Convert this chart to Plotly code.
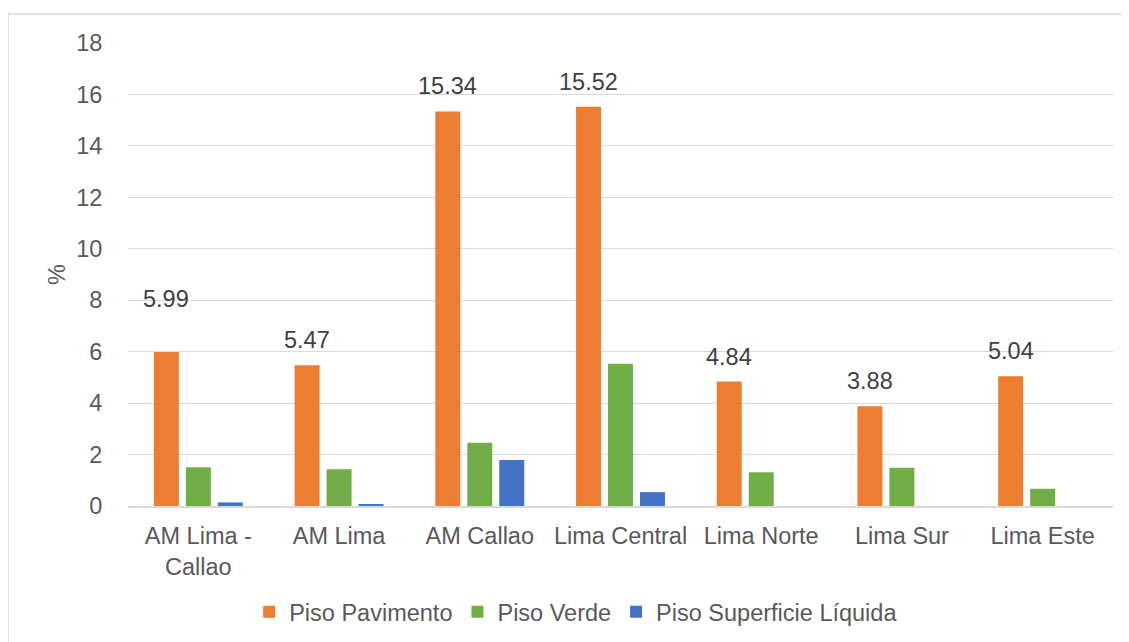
import plotly.graph_objects as go

categories = ["AM Lima -<br>Callao", "AM Lima", "AM Callao", "Lima Central", "Lima Norte", "Lima Sur", "Lima Este"]
piso_pavimento = [5.99, 5.47, 15.34, 15.52, 4.84, 3.88, 5.04]
piso_verde = [1.51, 1.43, 2.46, 5.53, 1.31, 1.49, 0.67]
piso_liquida = [0.14, 0.06, 1.79, 0.54, 0, 0, 0]
pavimento_labels = ["5.99", "5.47", "15.34", "15.52", "4.84", "3.88", "5.04"]
y_ticks = [0, 2, 4, 6, 8, 10, 12, 14, 16, 18]

# extra vertical offset (px) of each data label, as placed in the original
label_yshift = [38, 10, 10, 10, 10, 10, 10]

FONT = "Arial, 'Liberation Sans', sans-serif"
TXT = "#595959"
FS = 23.5

fig = go.Figure()
fig.add_trace(go.Bar(name="Piso Pavimento", x=categories, y=piso_pavimento,
                     marker=dict(color="#ED7D31", line=dict(width=0)),
                     offsetgroup="a"))
fig.add_trace(go.Bar(name="Piso Verde", x=categories, y=piso_verde,
                     marker=dict(color="#70AD47", line=dict(width=0)),
                     offsetgroup="b"))
fig.add_trace(go.Bar(name="Piso Superficie Líquida", x=categories, y=piso_liquida,
                     marker=dict(color="#4472C4", line=dict(width=0)),
                     offsetgroup="c"))

annotations = []
for cat, val, lab, ys in zip(categories, piso_pavimento, pavimento_labels, label_yshift):
    annotations.append(dict(x=cat, y=val, text=lab, xref="x", yref="y",
                            xanchor="center", yanchor="bottom", xshift=-32, yshift=ys,
                            showarrow=False,
                            font=dict(size=FS, color="#404040", family=FONT)))
annotations.append(dict(text="%", xref="paper", yref="paper", x=-0.0726, y=0.5,
                        xanchor="center", yanchor="middle", textangle=-90, showarrow=False,
                        font=dict(size=FS, color=TXT, family=FONT)))

fig.update_layout(
    width=1129, height=642,
    margin=dict(l=120, r=24, t=35, b=144),
    paper_bgcolor="white", plot_bgcolor="white",
    barmode="group", bargap=0.318, bargroupgap=0.22,
    font=dict(family=FONT, size=FS, color=TXT),
    showlegend=True,
    legend=dict(orientation="h", x=0.455, xanchor="center", y=-0.229, yanchor="middle",
                font=dict(size=FS, color=TXT, family=FONT), itemwidth=30,
                bgcolor="rgba(0,0,0,0)"),
    xaxis=dict(showgrid=False, showline=True, linecolor="#D9D9D9", linewidth=2,
               ticks="outside", ticklen=8, tickcolor="rgba(0,0,0,0)",
               tickfont=dict(size=FS, color=TXT, family=FONT)),
    yaxis=dict(range=[0, 18], tickvals=y_ticks, showgrid=True, gridcolor="#D9D9D9",
               gridwidth=1.3, zeroline=False, showline=False,
               ticks="outside", ticklen=20, tickcolor="rgba(0,0,0,0)",
               tickfont=dict(size=FS, color=TXT, family=FONT)),
    annotations=annotations,
    shapes=[dict(type="rect", xref="paper", yref="paper", x0=-0.1218, x1=1.05,
                 y0=-0.35, y1=1.0626, line=dict(color="#D9D9D9", width=1.5),
                 fillcolor="rgba(0,0,0,0)", layer="below")],
)

fig.write_html("out.html")
